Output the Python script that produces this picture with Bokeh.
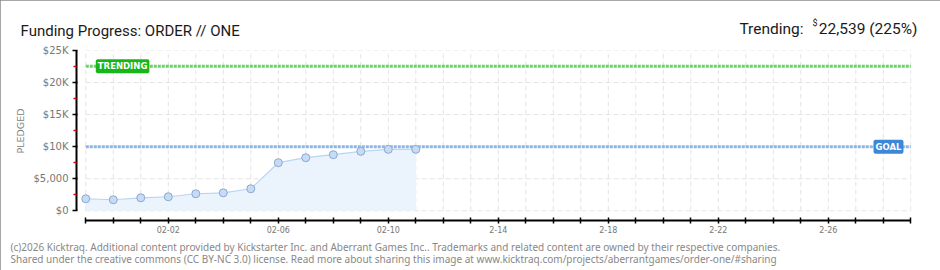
from bokeh.plotting import figure
from bokeh.models import Label, FixedTicker
from bokeh.embed import file_html
from bokeh.resources import INLINE
import math

# ---- data ----
day_index = [0, 1, 2, 3, 4, 5, 6, 7, 8, 9, 10, 11, 12]          # Jan 30 .. Feb 11
pledged = [1880, 1720, 2030, 2190, 2660, 2810, 3440, 7500, 8280, 8750, 9270, 9580, 9580]
goal = 10000
trending = 22539
trending_pct = 225
tick_days = list(range(31))                                       # Jan 30 .. Mar 1
date_label_days = [3, 7, 11, 15, 19, 23, 27]
date_labels = ["02-02", "02-06", "02-10", "2-14", "2-18", "2-22", "2-26"]
y_ticks = [0, 5000, 10000, 15000, 20000, 25000]
y_minor_ticks = [2500, 7500, 12500, 17500, 22500]
y_labels = ["$0", "$5,000", "$10K", "$15K", "$20K", "$25K"]

title_text = "Funding Progress: ORDER // ONE"
footer1 = ("(c)2026 Kicktraq. Additional content provided by Kickstarter Inc. and Aberrant Games Inc.. "
           "Trademarks and related content are owned by their respective companies.")
footer2 = ("Shared under the creative commons (CC BY-NC 3.0) license. Read more about sharing this image at "
           "www.kicktraq.com/projects/aberrantgames/order-one/#sharing")

# ---- layout helpers (pixel -> data, only for placing texts) ----
X_PX0, X_STEP = 85.3, 27.5
Y_PX0, Y_SCALE = 210.3, 160.3 / 25000
FL, FR, FT, FB = 76, 911, 50, 220


def dx(px):
    return (px - X_PX0) / X_STEP


def dy(py):
    return (Y_PX0 - py) / Y_SCALE


p = figure(width=940, height=270,
           x_range=(dx(FL), dx(FR)), y_range=(dy(FB), dy(FT)),
           output_backend="svg", toolbar_location=None,
           min_border_left=FL, min_border_right=940 - FR,
           min_border_top=FT, min_border_bottom=270 - FB)
p.outline_line_color = None
p.background_fill_color = "white"
p.border_fill_color = "white"
p.xgrid.visible = False
p.ygrid.visible = False
p.styles = {"outline": "2px solid #8a8a8a", "outline-offset": "-2px"}

# grid
grid_col = "#e4e4e4"
p.segment(x0=tick_days, x1=tick_days, y0=[y_ticks[0]] * len(tick_days), y1=[y_ticks[-1]] * len(tick_days),
          line_color=grid_col, line_width=1, line_dash="5 3")
p.segment(x0=[tick_days[0]] * len(y_ticks), x1=[tick_days[-1]] * len(y_ticks), y0=y_ticks, y1=y_ticks,
          line_color=grid_col, line_width=1, line_dash="5 3")

# area + line
p.varea(x=day_index, y1=[0] * len(day_index), y2=pledged, fill_color="#ebf3fc")
p.line(day_index, pledged, line_color="#b9d5f3", line_width=1.2)

# goal / trending lines
p.segment(x0=[tick_days[0]], x1=[tick_days[-1]], y0=[goal], y1=[goal],
          line_color="#8db6e4", line_width=3, line_dash="3 1")
p.segment(x0=[tick_days[0]], x1=[tick_days[-1]], y0=[trending], y1=[trending],
          line_color="#6ad46a", line_width=3, line_dash="3 1")

# points
p.scatter(day_index, pledged, size=8, fill_color="#c4dcf6", line_color="#8ea8cc", line_width=1)

# axes
xa = p.xaxis[0]
xa.ticker = FixedTicker(ticks=tick_days)
ov = {d: "" for d in tick_days}
for d, lab in zip(date_label_days, date_labels):
    ov[d] = lab
xa.major_label_overrides = ov
xa.bounds = (tick_days[0], tick_days[-1])
xa.axis_line_width = 2
xa.axis_line_color = "black"
xa.major_tick_in = 3
xa.major_tick_out = 3
xa.major_tick_line_width = 1.5
xa.minor_tick_line_color = None
xa.major_label_standoff = 2
xa.major_label_text_font = "DejaVu Sans"
xa.major_label_text_font_size = "8px"
xa.major_label_text_color = "#777777"

ya = p.yaxis[0]
ya.ticker = FixedTicker(ticks=y_ticks, minor_ticks=y_minor_ticks)
ya.major_label_overrides = {t: lab for t, lab in zip(y_ticks, y_labels)}
ya.bounds = (y_ticks[0], y_ticks[-1])
ya.axis_line_width = 2
ya.axis_line_color = "black"
ya.major_tick_in = 1
ya.major_tick_out = 4
ya.major_tick_line_width = 1.5
ya.minor_tick_line_color = "#e00000"
ya.minor_tick_in = 0
ya.minor_tick_out = 3
ya.minor_tick_line_width = 1.5
ya.major_label_standoff = 4
ya.major_label_text_font = "DejaVu Sans"
ya.major_label_text_font_size = "10px"
ya.major_label_text_color = "#777777"

# badges (inside the frame)
p.add_layout(Label(x=dx(95.3), y=trending, text="TRENDING", text_color="white",
                   text_font="DejaVu Sans", text_font_style="bold", text_font_size="8.5px",
                   text_baseline="middle", text_align="left",
                   background_fill_color="#19b619", padding=2, border_radius=2))
p.add_layout(Label(x=dx(873), y=goal, text="GOAL", text_color="white",
                   text_font="DejaVu Sans", text_font_style="bold", text_font_size="8.5px",
                   text_baseline="middle", text_align="left",
                   background_fill_color="#3b88d8", padding=2, border_radius=2))

# texts outside the frame: placed in side panels so they are not clipped
NB = "\u00a0"
head_font = "Roboto"
p.add_layout(Label(x=dx(20), y=dy(30), text=title_text, text_font=head_font,
                   text_font_size="15px", text_color="#1a1a1a", text_baseline="alphabetic"), "above")
p.add_layout(Label(x=dx(917), y=dy(28), text="Trending:" + NB * 4 + f"{trending:,} ({trending_pct}%)",
                   text_font=head_font, text_font_size="15.5px", text_color="#1a1a1a",
                   text_align="right", text_baseline="alphabetic"), "above")
p.add_layout(Label(x=dx(812), y=dy(22), text="$", text_font=head_font,
                   text_font_size="9px", text_color="#1a1a1a", text_baseline="alphabetic"), "right")
p.add_layout(Label(x=dx(20), y=dy(130.5), text="PLEDGED", text_font="DejaVu Sans",
                   text_font_size="9.5px", text_color="#808080", text_align="center",
                   text_baseline="middle", angle=math.pi / 2), "right")
p.add_layout(Label(x=dx(10), y=dy(246.5), text=footer1, text_font="Noto Sans",
                   text_font_size="10px", text_color="#888888", text_baseline="alphabetic"), "below")
p.add_layout(Label(x=dx(10), y=dy(258), text=footer2, text_font="Noto Sans",
                   text_font_size="10px", text_color="#888888", text_baseline="alphabetic"), "below")

open("out.html", "w").write(file_html(p, INLINE))
